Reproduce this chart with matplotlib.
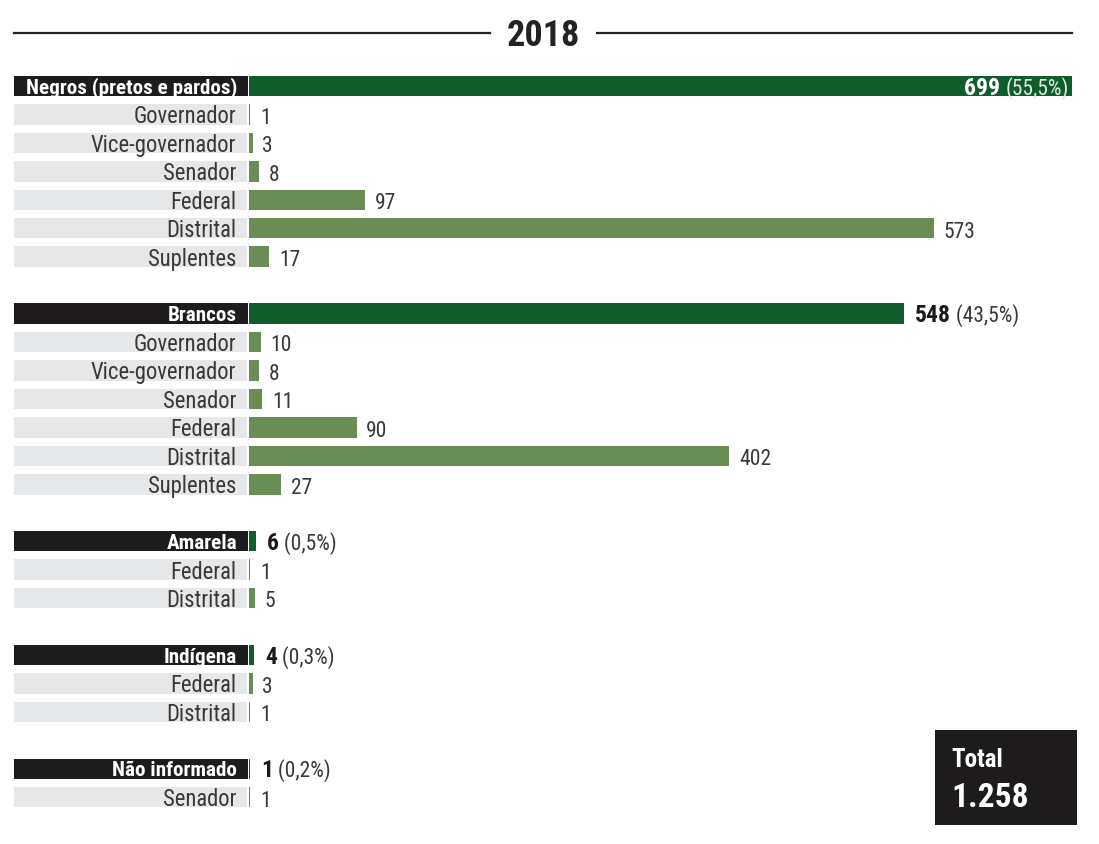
import matplotlib.pyplot as plt
from matplotlib import font_manager
from matplotlib.font_manager import FontProperties

# candidatos por cor/raça e cargo, eleições 2018
groups = ['Negros (pretos e pardos)', 'Brancos', 'Amarela', 'Indígena', 'Não informado']
group_totals = [699, 548, 6, 4, 1]
group_shares = ['55,5%', '43,5%', '0,5%', '0,3%', '0,2%']
sub_labels = [
    ['Governador', 'Vice-governador', 'Senador', 'Federal', 'Distrital', 'Suplentes'],
    ['Governador', 'Vice-governador', 'Senador', 'Federal', 'Distrital', 'Suplentes'],
    ['Federal', 'Distrital'],
    ['Federal', 'Distrital'],
    ['Senador'],
]
sub_values = [
    [1, 3, 8, 97, 573, 17],
    [10, 8, 11, 90, 402, 27],
    [1, 5],
    [3, 1],
    [1],
]
title = '2018'
total_label = 'Total'
total_value = '1.258'

CONDENSED = ('semi-condensed', 'condensed', 'extra-condensed', 'ultra-condensed')


def _weight(f):
    w = f.weight
    if isinstance(w, str):
        w = font_manager.weight_dict.get(w, 400)
    return int(w)


def narrow_font(bold):
    # look for an installed condensed face, fall back to plain DejaVu
    entries = font_manager.fontManager.ttflist
    for pref in ['Roboto Condensed', 'Liberation Sans Narrow', 'Noto Sans', 'Open Sans', 'DejaVu Sans', 'Roboto']:
        for f in entries:
            narrow = f.stretch in CONDENSED or 'Condensed' in f.name or 'Narrow' in f.name
            if not f.name.startswith(pref) or not narrow or f.style != 'normal':
                continue
            w = _weight(f)
            if (bold and 600 <= w <= 800) or (not bold and 400 <= w <= 500):
                return FontProperties(fname=f.fname), True
    return FontProperties(family='DejaVu Sans', weight='bold' if bold else 'normal'), False


REG, found = narrow_font(False)
BOLD, _ = narrow_font(True)
k = 1.0 if found else 0.82


def fp(base, size):
    p = base.copy()
    p.set_size(size * k)
    return p


DARK_GREEN = '#115c2d'
LIGHT_GREEN = '#6a8c55'
BLACK = '#1d1b1c'
GRAY = '#e6e7e8'
TEXT = '#383838'

W, H = 1099, 845
fig = plt.figure(figsize=(W / 100, H / 100), dpi=100)

# row layout: one header row per group, then its sub rows, then a blank row
rows = []
for g, name in enumerate(groups):
    rows.append(('head', g, None))
    for j in range(len(sub_labels[g])):
        rows.append(('sub', g, j))
    rows.append(('blank', g, None))
rows = rows[:-1]

pitch = 28.45
y0 = 87
ymin, ymax = -0.8, len(rows) - 0.2
top_px = y0 + ymin * pitch
bot_px = y0 + ymax * pitch


def axes_at(left_px, right_px):
    return fig.add_axes([left_px / W, 1 - bot_px / H, (right_px - left_px) / W, (bot_px - top_px) / H])


lab_ax = axes_at(14, 248)
bar_ax = axes_at(249, 1072)
px_per_unit = 1.195
for a in (lab_ax, bar_ax):
    a.set_ylim(ymax, ymin)
    a.axis('off')
lab_ax.set_xlim(0, 234)
bar_ax.set_xlim(0, 823 / px_per_unit)

bh = 0.72
for i, (kind, g, j) in enumerate(rows):
    if kind == 'head':
        lab_ax.barh(i, 234, height=bh, color=BLACK)
        lab_ax.text(223, i + 0.04, groups[g], ha='right', va='center', color='white',
                    fontproperties=fp(BOLD, 15.2))
        val = group_totals[g]
        bar_ax.barh(i, val, height=bh, color=DARK_GREEN)
        if val > 0.8 * bar_ax.get_xlim()[1]:
            pct = bar_ax.annotate(f'({group_shares[g]})', xy=(1, i + 0.04), xycoords=('axes fraction', 'data'),
                                  xytext=(-2, 0), textcoords='offset points', ha='right', va='center',
                                  color='#dfe8df', fontproperties=fp(REG, 15.5))
            bar_ax.annotate(f'{val} ', xy=(0, 0.5), xycoords=pct, ha='right', va='center',
                            color='white', fontproperties=fp(BOLD, 17))
        else:
            num = bar_ax.annotate(f'{val}', xy=(val, i + 0.04), xytext=(8, 0), textcoords='offset points',
                                  ha='left', va='center', color='#1a1a1a',
                                  fontproperties=fp(BOLD, 17))
            bar_ax.annotate(f' ({group_shares[g]})', xy=(1, 0.5), xycoords=num, ha='left', va='center',
                            color=TEXT, fontproperties=fp(REG, 15.5))
    elif kind == 'sub':
        lab_ax.barh(i, 232.5, height=bh, color=GRAY)
        lab_ax.text(222, i + 0.05, sub_labels[g][j], ha='right', va='center', color=TEXT,
                    fontproperties=fp(REG, 16.3))
        val = sub_values[g][j]
        bar_ax.barh(i, val, height=bh, color=LIGHT_GREEN)
        bar_ax.annotate(f'{val}', xy=(val, i + 0.05), xytext=(7, -1), textcoords='offset points',
                        ha='left', va='center', color=TEXT, fontproperties=fp(REG, 15.5))

# title with rules on both sides
fig.add_artist(plt.Line2D([14 / W, 490 / W], [1 - 34 / H] * 2, color='#222222', lw=1.6))
fig.add_artist(plt.Line2D([597 / W, 1072 / W], [1 - 34 / H] * 2, color='#222222', lw=1.6))
fig.text(543 / W, 1 - 36 / H, title, ha='center', va='center', color='#222222',
         fontproperties=fp(BOLD, 26))

# total box
box = fig.add_axes([935 / W, 1 - 826 / H, 142 / W, 95 / H])
box.set_facecolor(BLACK)
box.set_xticks([])
box.set_yticks([])
for s in box.spines.values():
    s.set_visible(False)
box.text(16 / 142, 0.69, total_label, transform=box.transAxes, ha='left', va='center',
         color='white', fontproperties=fp(BOLD, 18))
box.text(16 / 142, 0.29, total_value, transform=box.transAxes, ha='left', va='center',
         color='white', fontproperties=fp(BOLD, 24))

fig.savefig('out.png', dpi=100, facecolor='white')
